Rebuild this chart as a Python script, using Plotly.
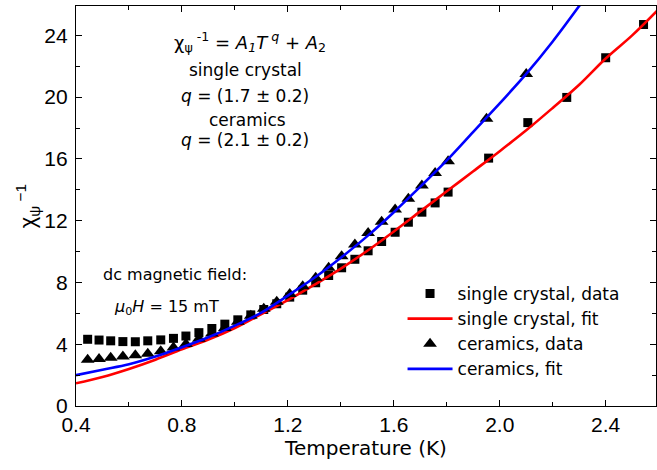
import plotly.graph_objects as go

# ---- data ----
T_data = [0.444, 0.487, 0.531, 0.577, 0.624, 0.671, 0.720, 0.768, 0.815, 0.864,
          0.913, 0.962, 1.011, 1.060, 1.109, 1.158, 1.207, 1.256, 1.305, 1.354,
          1.403, 1.453, 1.503, 1.554, 1.605, 1.655, 1.706, 1.756, 1.805]
sc_T = T_data + [1.958, 2.106, 2.253, 2.400, 2.543]
sc_val = [4.32, 4.27, 4.22, 4.17, 4.16, 4.22, 4.28, 4.38, 4.53, 4.75,
          5.02, 5.30, 5.58, 5.90, 6.25, 6.62, 7.05, 7.50, 7.98, 8.45,
          8.95, 9.50, 10.05, 10.65, 11.25, 11.90, 12.55, 13.15, 13.85,
          16.05, 18.35, 19.98, 22.55, 24.70]
cer_T = T_data + [1.950, 2.100]
cer_val = [3.00, 3.05, 3.12, 3.20, 3.28, 3.38, 3.55, 3.78, 4.02, 4.35,
           4.70, 5.05, 5.45, 5.85, 6.30, 6.75, 7.25, 7.75, 8.30, 8.95,
           9.70, 10.45, 11.20, 11.93, 12.73, 13.42, 14.28, 15.08, 15.85,
           18.60, 21.50]

fit_sc_T = [0.4, 0.5, 0.6, 0.7, 0.8, 0.9, 1.0, 1.1, 1.2, 1.3, 1.4, 1.5, 1.6,
            1.7, 1.8, 1.9, 2.0, 2.1, 2.2, 2.3, 2.4, 2.5, 2.6]
fit_sc_val = [1.47, 1.88, 2.40, 3.00, 3.67, 4.30, 5.05, 5.95, 6.85, 7.85, 8.90,
              10.05, 11.30, 12.60, 13.90, 15.20, 16.50, 17.85, 19.30, 20.80,
              22.50, 24.00, 25.70]
fit_cer_T = [0.4, 0.5, 0.6, 0.7, 0.8, 0.9, 1.0, 1.1, 1.2, 1.3, 1.4, 1.5, 1.6,
             1.7, 1.8, 1.9, 2.0, 2.1, 2.2, 2.3, 2.35]
fit_cer_val = [2.00, 2.35, 2.70, 3.20, 3.80, 4.45, 5.20, 6.05, 7.15, 8.30, 9.60,
               11.00, 12.55, 14.20, 15.90, 17.75, 19.60, 21.50, 23.60, 25.90, 27.10]

x_ticks = [0.4, 0.8, 1.2, 1.6, 2.0, 2.4]
y_ticks = [0, 4, 8, 12, 16, 20, 24]

FONT = "Liberation Sans, Arial, sans-serif"
WIDE = "DejaVu Sans, Liberation Sans, sans-serif"

fig = go.Figure()
fig.add_trace(go.Scatter(x=sc_T, y=sc_val, mode="markers", name="single crystal, data",
                         marker=dict(symbol="square", size=9, color="black")))
fig.add_trace(go.Scatter(x=fit_sc_T, y=fit_sc_val, mode="lines", name="single crystal, fit",
                         line=dict(color="#ff0000", width=2.6, shape="spline")))
fig.add_trace(go.Scatter(x=cer_T, y=cer_val, mode="markers", name="ceramics, data",
                         marker=dict(symbol="triangle-up", size=12, color="black")))
fig.add_trace(go.Scatter(x=fit_cer_T, y=fit_cer_val, mode="lines", name="ceramics, fit",
                         line=dict(color="#0000ff", width=2.6, shape="spline")))

axis_common = dict(showline=True, linecolor="black", linewidth=1.3, mirror="allticks",
                   ticks="inside", ticklen=6, tickwidth=1.3, tickcolor="black",
                   showgrid=False, zeroline=False,
                   tickfont=dict(family=FONT, size=21, color="black"))

fig.update_xaxes(range=[0.4, 2.59], tickvals=x_ticks,
                 ticktext=[f"{v:.1f}" for v in x_ticks],
                 minor=dict(ticks="inside", ticklen=4, tickwidth=1.3, tickcolor="black", dtick=0.2),
                 title=dict(text="Temperature (K)", font=dict(family=WIDE, size=20, color="black"),
                            standoff=2),
                 **axis_common)
fig.update_yaxes(range=[0, 25.9], tickvals=y_ticks,
                 ticktext=[str(v) for v in y_ticks],
                 minor=dict(ticks="inside", ticklen=4, tickwidth=1.3, tickcolor="black", dtick=2),
                 ticklabelstandoff=3,
                 title=dict(text="χ<sub>ψ</sub><sup> −1</sup>", font=dict(family=FONT, size=22, color="black"),
                            standoff=2),
                 **axis_common)

anns = [
    ("χ<sub>ψ</sub><sup> -1</sup> = <i>A<sub>1</sub>T<sup> q</sup></i> + <i>A</i><sub>2</sub>", 250, 42, 18),
    ("single crystal", 246, 70, 17),
    ("<i>q</i> = (1.7 ± 0.2)", 245, 96, 17),
    ("ceramics", 247, 120, 17),
    ("<i>q</i> = (2.1 ± 0.2)", 245, 140, 17),
    ("dc magnetic field:", 175, 274, 16),
    ("<i>μ</i><sub>0</sub><i>H</i> = 15 mT", 166, 307, 16),
]
for text, px, py, fs in anns:
    fig.add_annotation(text=text, xref="paper", yref="paper",
                       x=(px - 76) / 580, y=(406 - py) / 400,
                       xanchor="center", yanchor="middle", showarrow=False,
                       font=dict(family=WIDE, size=fs, color="black"))

fig.update_layout(
    width=657, height=470,
    margin=dict(l=76, r=1, t=6, b=64),
    paper_bgcolor="white", plot_bgcolor="white",
    font=dict(family=FONT, color="black"),
    legend=dict(x=0.563, y=0.325, xanchor="left", yanchor="top",
                bgcolor="rgba(0,0,0,0)", font=dict(family=WIDE, size=17, color="black"),
                tracegroupgap=0, itemwidth=45),
    showlegend=True,
)

fig.write_html("out.html", config={"displayModeBar": False},
               post_script="document.body.style.margin='0px';")
